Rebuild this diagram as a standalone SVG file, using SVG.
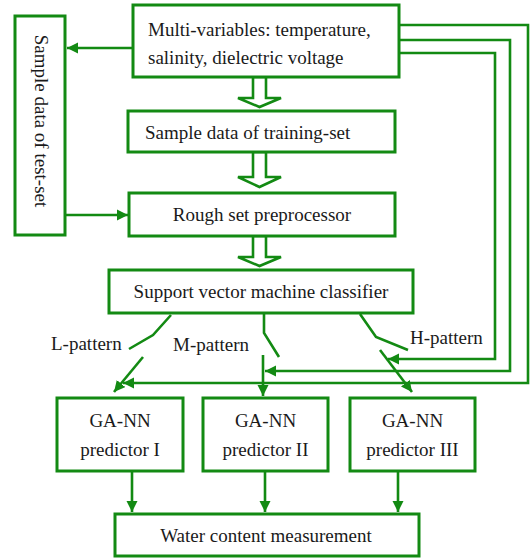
<svg xmlns="http://www.w3.org/2000/svg" width="530" height="558" viewBox="0 0 530 558" font-family="'Liberation Serif', 'Times New Roman', serif">
<defs>
<style>
.box{fill:#fff;stroke:#138a13;stroke-width:3}
.ln{fill:none;stroke:#138a13;stroke-width:2.6}
.hol{fill:#fff;stroke:#138a13;stroke-width:2.6;stroke-linejoin:miter}
text{font-size:19px;fill:#1a1a1a}
.c{text-anchor:middle}
</style>
<marker id="ah" markerUnits="userSpaceOnUse" markerWidth="12" markerHeight="12" viewBox="0 0 12 12" refX="11" refY="6" orient="auto">
<path d="M0,0.5 L11,6 L0,11.5 Z" fill="#138a13"/>
</marker>
</defs>
<rect width="530" height="558" fill="#fff"/>
<g id="connectors">
<line class="ln" x1="133" y1="48" x2="67" y2="48" marker-end="url(#ah)"/>
<line class="ln" x1="65" y1="215" x2="128" y2="215" marker-end="url(#ah)"/>
<polygon class="hol" points="253,77 266,77 266,98 281,98 259.5,107 238,98 253,98"/>
<polygon class="hol" points="253,152 266,152 266,177 281,177 259.5,187 238,177 253,177"/>
<polygon class="hol" points="253,236 266,236 266,257 281,257 259.5,266 238,257 253,257"/>
<polyline class="ln" points="171,315 153,335 129,349"/>
<line class="ln" x1="143" y1="357" x2="114" y2="392" marker-end="url(#ah)"/>
<polyline class="ln" points="264,309 264,333 279,357"/>
<line class="ln" x1="263" y1="355" x2="263" y2="396" marker-end="url(#ah)"/>
<polyline class="ln" points="360,314 376,337 408,350"/>
<line class="ln" x1="380" y1="350" x2="412" y2="392" marker-end="url(#ah)"/>
<polyline class="ln" points="399,25 528,25 528,383 123,383" marker-end="url(#ah)"/>
<polyline class="ln" points="399,40 510,40 510,371 265,371" marker-end="url(#ah)"/>
<polyline class="ln" points="399,53 495,53 495,359 388,359" marker-end="url(#ah)"/>
<line class="ln" x1="132" y1="471" x2="132" y2="512" marker-end="url(#ah)"/>
<line class="ln" x1="265" y1="471" x2="265" y2="512" marker-end="url(#ah)"/>
<line class="ln" x1="398" y1="471" x2="398" y2="512" marker-end="url(#ah)"/>
</g>
<g id="multivar">
<rect class="box" x="133" y="5" width="266" height="72"/>
<text x="148" y="36">Multi-variables: temperature,</text>
<text x="148" y="64">salinity, dielectric voltage</text>
</g>
<g id="testset">
<rect class="box" x="15" y="16" width="50" height="219"/>
<text class="c" transform="translate(35,121) rotate(90)">Sample data of test-set</text>
</g>
<g id="trainset">
<rect class="box" x="128" y="111" width="267" height="41"/>
<text x="145" y="139">Sample data of training-set</text>
</g>
<g id="rough">
<rect class="box" x="129" y="193" width="266" height="43"/>
<text class="c" x="262" y="221">Rough set preprocessor</text>
</g>
<g id="svm">
<rect class="box" x="109" y="270" width="304" height="43"/>
<text class="c" x="261" y="298">Support vector machine classifier</text>
</g>
<g id="labels">
<text x="51" y="350">L-pattern</text>
<text x="173" y="351">M-pattern</text>
<text x="410" y="344">H-pattern</text>
</g>
<g id="p1">
<rect class="box" x="57" y="398" width="126" height="73"/>
<text class="c" x="120" y="427">GA-NN</text>
<text class="c" x="120" y="456">predictor I</text>
</g>
<g id="p2">
<rect class="box" x="203" y="398" width="125" height="73"/>
<text class="c" x="265.5" y="427">GA-NN</text>
<text class="c" x="265.5" y="456">predictor II</text>
</g>
<g id="p3">
<rect class="box" x="350" y="398" width="125" height="73"/>
<text class="c" x="412.5" y="427">GA-NN</text>
<text class="c" x="412.5" y="456">predictor III</text>
</g>
<g id="water">
<rect class="box" x="115" y="514" width="304" height="42"/>
<text class="c" x="266" y="542">Water content measurement</text>
</g>
</svg>
